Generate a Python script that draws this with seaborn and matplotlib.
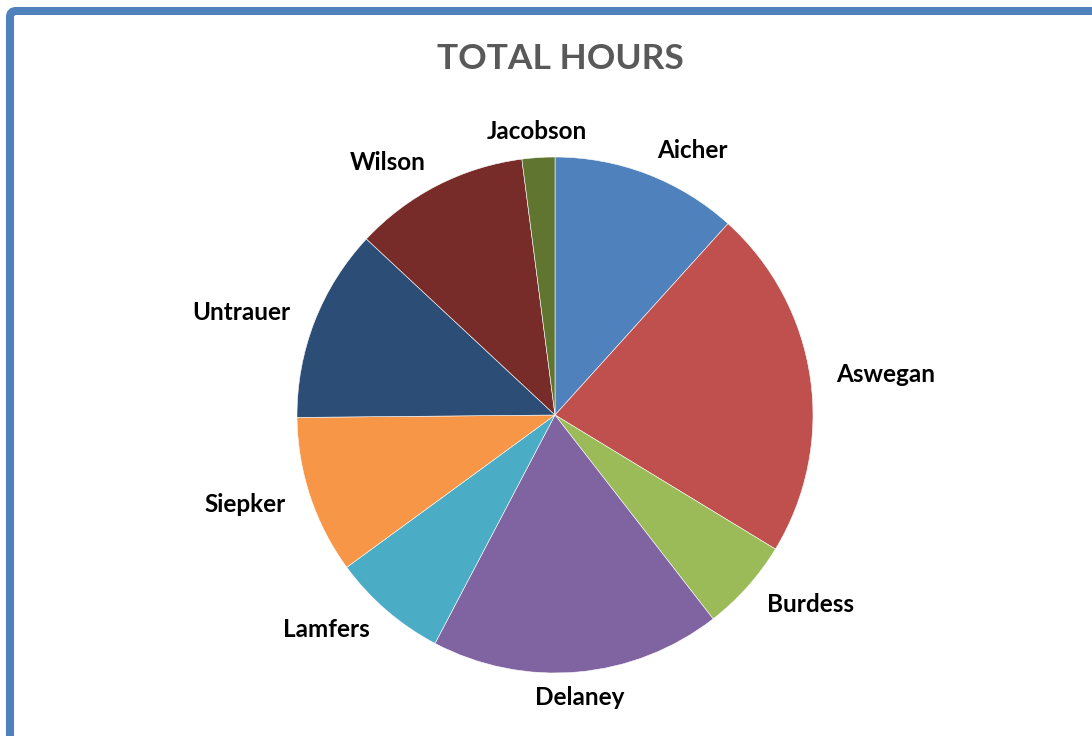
import matplotlib
matplotlib.use('Agg')
import matplotlib.pyplot as plt
from matplotlib.patches import FancyBboxPatch
import seaborn as sns

# slice values (hours), clockwise from 12 o'clock
names = ['Aicher', 'Aswegan', 'Burdess', 'Delaney', 'Lamfers',
         'Siepker', 'Untrauer', 'Wilson', 'Jacobson']
hours = [11.7, 22.0, 5.8, 18.2, 7.25, 9.9, 12.1, 11.0, 2.05]
colors = ['#4F81BD', '#C0504D', '#9BBB59', '#8064A2', '#4BACC6',
          '#F79646', '#2C4D75', '#772C2A', '#5F7530']

sns.set_theme(style='white')
plt.rcParams['font.family'] = ['Lato', 'DejaVu Sans']

fig = plt.figure(figsize=(10.92, 7.36), dpi=100)
ax = fig.add_axes([0, 0, 1, 1])

palette = sns.color_palette(colors)
cx, cy = 555, 321

# ---- pie ----
wedges, texts = ax.pie(
    hours,
    labels=names,
    colors=palette,
    startangle=90,
    counterclock=False,
    center=(cx, cy),
    radius=258,
    labeldistance=1.1,
    wedgeprops=dict(edgecolor='white', linewidth=0.4),
    textprops=dict(fontsize=17.5, fontweight='bold', color='black'),
    frame=True,
)
ax.set_xlim(0, 1092)
ax.set_ylim(0, 736)
ax.set_aspect('equal')
ax.axis('off')

# pie() picks alignment from the absolute x, so redo it around the centre
for t in texts:
    x, y = t.get_position()
    if t.get_text() in ('Delaney', 'Jacobson'):
        t.set_ha('center')
    elif x < cx:
        t.set_ha('right')
    else:
        t.set_ha('left')

# ---- title ----
ax.text(560, 736 - 59, 'TOTAL HOURS', ha='center', va='center',
        fontsize=25.5, fontweight='bold', color='#595959')

# ---- outer border (chart frame, cut by the image edges) ----
frame = FancyBboxPatch((10, -40), 1120, 736 - 11 + 40,
                       boxstyle='round,pad=0,rounding_size=6',
                       fill=False, edgecolor='#4F81BD', linewidth=5.8,
                       clip_on=False)
ax.add_patch(frame)

fig.savefig('out.png', dpi=100)
plt.close(fig)
